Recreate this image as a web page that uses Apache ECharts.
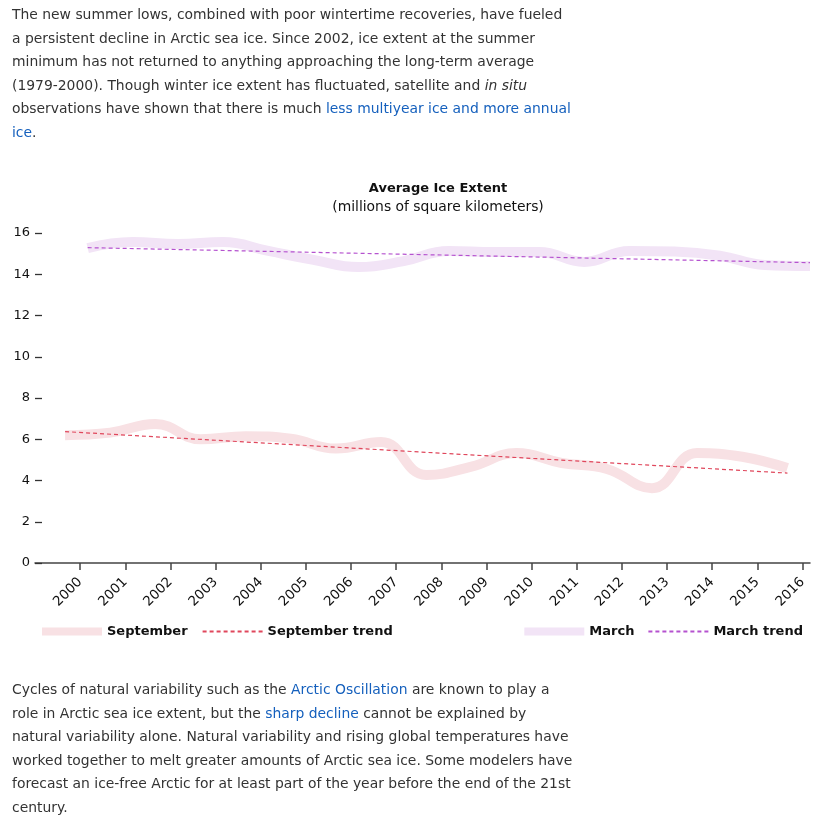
<!DOCTYPE html>
<html>
<head>
<meta charset="utf-8">
<script src="https://cdn.jsdelivr.net/npm/echarts@6/dist/echarts.min.js"></script>
<style>
  html, body { margin: 0; padding: 0; background: #fff; }
  body { width: 836px; height: 826px; position: relative; overflow: hidden; font-family: "DejaVu Sans", Verdana, sans-serif; }
  .para { position: absolute; left: 12px; margin: 0; font-size: 13.9px; line-height: 23.6px; color: #333; white-space: nowrap; z-index: 2; }
  .para a { color: #1560bd; text-decoration: none; }
  #p1 { top: 3px; }
  #p2 { top: 678px; }
  #chart { position: absolute; left: 0; top: 0; width: 836px; height: 826px; z-index: 1; }
</style>
</head>
<body>
<div id="chart"></div>
<p class="para" id="p1">The new summer lows, combined with poor wintertime recoveries, have fueled<br>a persistent decline in Arctic sea ice. Since 2002, ice extent at the summer<br>minimum has not returned to anything approaching the long-term average<br>(1979-2000). Though winter ice extent has fluctuated, satellite and <i>in situ</i><br>observations have shown that there is much <a href="#">less multiyear ice and more annual<br>ice</a>.</p>
<p class="para" id="p2">Cycles of natural variability such as the <a href="#">Arctic Oscillation</a> are known to play a<br>role in Arctic sea ice extent, but the <a href="#">sharp decline</a> cannot be explained by<br>natural variability alone. Natural variability and rising global temperatures have<br>worked together to melt greater amounts of Arctic sea ice. Some modelers have<br>forecast an ice-free Arctic for at least part of the year before the end of the 21st<br>century.</p>
<script>
// ---- data ----
var tickYears = [2000, 2001, 2002, 2003, 2004, 2005, 2006, 2007, 2008, 2009, 2010, 2011, 2012, 2013, 2014, 2015, 2016];
var septYears = [1999, 2000, 2001, 2002, 2003, 2004, 2005, 2006, 2007, 2008, 2009, 2010, 2011, 2012, 2013, 2014, 2015];
var septValues = [6.2, 6.32, 6.74, 6.0, 6.15, 6.03, 5.55, 5.87, 4.27, 4.67, 5.33, 4.85, 4.56, 3.63, 5.33, 5.15, 4.6];
var marchYears = [2000, 2001, 2002, 2003, 2004, 2005, 2006, 2007, 2008, 2009, 2010, 2011, 2012, 2013, 2014, 2015, 2016];
var marchValues = [15.27, 15.56, 15.47, 15.56, 15.13, 14.7, 14.35, 14.64, 15.13, 15.08, 15.08, 14.6, 15.13, 15.1, 14.9, 14.45, 14.4];
var septTrendYears = [1999, 2015];
var septTrendValues = [6.37, 4.36];
var marchTrendYears = [2000, 2016];
var marchTrendValues = [15.29, 14.56];
var SEPT_MONTH = 8 / 12;   // September within the year
var MARCH_MONTH = 2 / 12;  // March within the year

function pairs(years, vals, off) {
  return years.map(function (y, i) { return [y + off, vals[i]]; });
}

var FONT = 'DejaVu Sans';
var chart = echarts.init(document.getElementById('chart'), null, { renderer: 'canvas' });
chart.setOption({
  animation: false,
  textStyle: { fontFamily: FONT },
  title: {
    text: 'Average Ice Extent',
    subtext: '(millions of square kilometers)',
    left: 433, top: 177, textAlign: 'center', itemGap: 5,
    textStyle: { fontFamily: FONT, fontSize: 13, fontWeight: 'bold', color: '#111' },
    subtextStyle: { fontFamily: FONT, fontSize: 13.9, color: '#111' }
  },
  grid: { left: 35, right: 26, top: 233, bottom: 263, containLabel: false },
  xAxis: {
    type: 'value', min: 1999, max: 2016 + MARCH_MONTH, interval: 1,
    splitLine: { show: false },
    axisLine: { show: true, lineStyle: { color: '#444', width: 1.5 } },
    axisTick: { show: true, length: 7, lineStyle: { color: '#444', width: 1.5 }, customValues: tickYears },
    axisLabel: { rotate: 45, margin: 17, fontSize: 13.5, color: '#111', fontFamily: FONT, customValues: tickYears,
      formatter: function (v) { return tickYears.indexOf(Math.round(v)) >= 0 && Math.abs(v - Math.round(v)) < 1e-6 ? String(Math.round(v)) : ''; } }
  },
  yAxis: {
    type: 'value', min: 0, max: 16, interval: 2,
    splitLine: { show: false },
    axisLine: { show: false },
    axisTick: { show: true, inside: true, length: 7, lineStyle: { color: '#333', width: 1.3 } },
    axisLabel: { margin: 5, fontSize: 13, color: '#111', fontFamily: FONT }
  },
  legend: [
    {
      left: 37, top: 620, itemWidth: 60, itemHeight: 8, itemGap: 14,
      textStyle: { fontFamily: FONT, fontSize: 13, fontWeight: 'bold', color: '#111' },
      data: [
        { name: 'September', icon: 'rect', itemStyle: { color: '#f8e1e4' } },
        { name: 'September trend', itemStyle: { opacity: 0 } }
      ]
    },
    {
      right: 28, top: 620, itemWidth: 60, itemHeight: 8, itemGap: 13,
      textStyle: { fontFamily: FONT, fontSize: 13, fontWeight: 'bold', color: '#111' },
      data: [
        { name: 'March', icon: 'rect', itemStyle: { color: '#f2e4f6' } },
        { name: 'March trend', itemStyle: { opacity: 0 } }
      ]
    }
  ],
  series: [
    {
      name: 'September', type: 'line', smooth: 0.45, showSymbol: false, symbol: 'none', clip: false,
      data: pairs(septYears, septValues, SEPT_MONTH),
      itemStyle: { color: '#f8e1e4' },
      lineStyle: { color: '#f8e1e4', width: 10 }, z: 1
    },
    {
      name: 'March', type: 'line', smooth: 0.45, showSymbol: false, symbol: 'none', clip: false,
      data: pairs(marchYears, marchValues, MARCH_MONTH),
      itemStyle: { color: '#f2e4f6' },
      lineStyle: { color: '#f2e4f6', width: 10 }, z: 1
    },
    {
      name: 'September trend', type: 'line', showSymbol: false, symbol: 'none', clip: false,
      data: pairs(septTrendYears, septTrendValues, SEPT_MONTH),
      itemStyle: { color: '#e0475c' },
      lineStyle: { color: '#e0475c', width: 1.2, type: [4, 3] }, z: 3
    },
    {
      name: 'March trend', type: 'line', showSymbol: false, symbol: 'none', clip: false,
      data: pairs(marchTrendYears, marchTrendValues, MARCH_MONTH),
      itemStyle: { color: '#b552cf' },
      lineStyle: { color: '#b552cf', width: 1.2, type: [4, 3] }, z: 3
    }
  ]
});
</script>
</body>
</html>
